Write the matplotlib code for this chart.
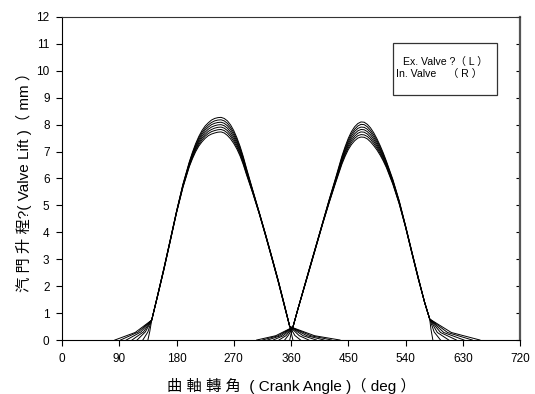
import matplotlib
matplotlib.use("Agg")
import matplotlib.pyplot as plt
import matplotlib.ticker as ticker
from matplotlib.lines import TICKLEFT
from matplotlib.patches import Rectangle

plt.rcParams['font.family'] = ['Liberation Sans', 'Noto Sans CJK TC', 'DejaVu Sans']

# exhaust valve (L): main lift part on a shared angle grid, one row per curve
ex_ang = [141, 150, 160, 170, 180, 190, 200, 205, 210, 215, 220, 225, 230, 235, 240, 245,
          250, 255, 260, 265, 270, 275, 280, 285, 290, 300, 310, 320, 330, 340, 350, 358]
ex_lift = [
    [0.74, 1.64, 2.65, 3.71, 4.78, 5.78, 6.61, 6.97, 7.29, 7.56, 7.78, 7.95, 8.07, 8.17, 8.23, 8.26,
     8.27, 8.23, 8.14, 7.99, 7.78, 7.51, 7.19, 6.81, 6.38, 5.56, 4.75, 3.93, 3.08, 2.21, 1.28, 0.50],
    [0.74, 1.63, 2.64, 3.70, 4.77, 5.76, 6.58, 6.93, 7.24, 7.50, 7.71, 7.87, 7.99, 8.08, 8.14, 8.17,
     8.18, 8.14, 8.05, 7.90, 7.70, 7.44, 7.13, 6.76, 6.34, 5.54, 4.74, 3.92, 3.07, 2.20, 1.27, 0.50],
    [0.74, 1.63, 2.63, 3.69, 4.76, 5.74, 6.55, 6.89, 7.19, 7.44, 7.64, 7.80, 7.91, 8.00, 8.05, 8.08,
     8.09, 8.05, 7.96, 7.82, 7.62, 7.37, 7.07, 6.71, 6.30, 5.52, 4.73, 3.91, 3.06, 2.19, 1.26, 0.50],
    [0.74, 1.62, 2.62, 3.68, 4.75, 5.72, 6.52, 6.85, 7.14, 7.38, 7.57, 7.72, 7.83, 7.91, 7.96, 7.99,
     8.00, 7.96, 7.87, 7.73, 7.54, 7.30, 7.01, 6.66, 6.26, 5.50, 4.72, 3.90, 3.05, 2.18, 1.25, 0.50],
    [0.74, 1.61, 2.61, 3.67, 4.74, 5.70, 6.49, 6.81, 7.09, 7.32, 7.50, 7.64, 7.75, 7.82, 7.87, 7.90,
     7.91, 7.87, 7.78, 7.64, 7.46, 7.23, 6.95, 6.61, 6.22, 5.48, 4.71, 3.89, 3.04, 2.17, 1.24, 0.50],
    [0.74, 1.61, 2.60, 3.66, 4.73, 5.68, 6.46, 6.77, 7.04, 7.26, 7.43, 7.57, 7.67, 7.74, 7.78, 7.81,
     7.82, 7.78, 7.69, 7.56, 7.38, 7.16, 6.89, 6.56, 6.18, 5.46, 4.70, 3.88, 3.03, 2.16, 1.23, 0.50],
    [0.74, 1.60, 2.59, 3.65, 4.72, 5.66, 6.43, 6.73, 6.99, 7.20, 7.36, 7.49, 7.59, 7.65, 7.69, 7.72,
     7.73, 7.69, 7.60, 7.47, 7.30, 7.09, 6.83, 6.51, 6.14, 5.44, 4.69, 3.87, 3.02, 2.15, 1.22, 0.50],
]
# opening / closing ramps (angle, lift) for each curve
ex_open_ang = [[83, 115], [92, 120], [101, 124], [110, 128], [118, 131], [127, 135], [135, 138]]
ex_open_lift = [[0, 0.28], [0, 0.30], [0, 0.30], [0, 0.30], [0, 0.30], [0, 0.30], [0, 0.32]]
ex_close_ang = [[397, 437], [391, 424], [385, 412], [379, 400], [373, 388], [366, 375], [360, 363]]
ex_close_lift = [[0.16, 0], [0.16, 0], [0.16, 0], [0.16, 0], [0.16, 0], [0.17, 0], [0.30, 0]]

# intake valve (R)
in_ang = [363, 370, 380, 390, 400, 410, 420, 430, 440, 445, 450, 455, 460, 465, 470,
          475, 480, 485, 490, 495, 500, 505, 510, 520, 530, 540, 550, 560, 570, 578]
in_lift = [
    [0.48, 1.08, 1.92, 2.75, 3.57, 4.39, 5.22, 6.01, 6.83, 7.18, 7.49, 7.74, 7.92, 8.04, 8.10,
     8.09, 8.01, 7.88, 7.70, 7.48, 7.23, 6.95, 6.64, 5.97, 5.18, 4.25, 3.28, 2.33, 1.40, 0.78],
    [0.48, 1.08, 1.91, 2.74, 3.56, 4.38, 5.20, 5.98, 6.78, 7.12, 7.42, 7.66, 7.83, 7.95, 8.01,
     8.00, 7.92, 7.79, 7.62, 7.41, 7.17, 6.90, 6.60, 5.94, 5.16, 4.24, 3.27, 2.32, 1.40, 0.78],
    [0.48, 1.08, 1.91, 2.73, 3.55, 4.37, 5.18, 5.95, 6.73, 7.06, 7.35, 7.58, 7.75, 7.86, 7.91,
     7.90, 7.83, 7.71, 7.54, 7.34, 7.11, 6.85, 6.56, 5.91, 5.14, 4.23, 3.26, 2.31, 1.40, 0.78],
    [0.48, 1.08, 1.90, 2.72, 3.54, 4.36, 5.16, 5.92, 6.68, 7.00, 7.28, 7.50, 7.66, 7.77, 7.82,
     7.81, 7.74, 7.62, 7.46, 7.27, 7.05, 6.80, 6.52, 5.88, 5.12, 4.22, 3.25, 2.30, 1.40, 0.78],
    [0.48, 1.08, 1.89, 2.71, 3.53, 4.35, 5.14, 5.89, 6.63, 6.94, 7.21, 7.42, 7.57, 7.68, 7.73,
     7.72, 7.65, 7.53, 7.38, 7.20, 6.99, 6.75, 6.48, 5.85, 5.10, 4.21, 3.24, 2.29, 1.40, 0.78],
    [0.48, 1.08, 1.89, 2.70, 3.52, 4.34, 5.12, 5.86, 6.58, 6.88, 7.14, 7.34, 7.49, 7.59, 7.63,
     7.62, 7.56, 7.45, 7.30, 7.13, 6.93, 6.70, 6.44, 5.82, 5.08, 4.20, 3.23, 2.28, 1.40, 0.78],
    [0.48, 1.08, 1.88, 2.69, 3.51, 4.33, 5.10, 5.83, 6.53, 6.82, 7.07, 7.26, 7.40, 7.50, 7.54,
     7.53, 7.47, 7.36, 7.22, 7.06, 6.87, 6.65, 6.40, 5.79, 5.06, 4.19, 3.22, 2.27, 1.40, 0.78],
]
in_open_ang = [[306, 336], [315, 340], [323, 344], [332, 348], [341, 352], [350, 356], [358, 360]]
in_open_lift = [[0, 0.16], [0, 0.16], [0, 0.16], [0, 0.16], [0, 0.16], [0, 0.18], [0, 0.22]]
in_close_ang = [[612, 657], [606, 645], [600, 632], [595, 620], [590, 608], [585, 595], [580, 583]]
in_close_lift = [[0.28, 0], [0.28, 0], [0.28, 0], [0.28, 0], [0.28, 0], [0.30, 0], [0.40, 0]]

x_ticks = [0, 90, 180, 270, 360, 450, 540, 630, 720]

fig = plt.figure(figsize=(5.35, 3.94), dpi=100)
ax = fig.add_axes([0.1159, 0.137, 0.8561, 0.820])

valves = [(ex_ang, ex_lift, ex_open_ang, ex_open_lift, ex_close_ang, ex_close_lift),
          (in_ang, in_lift, in_open_ang, in_open_lift, in_close_ang, in_close_lift)]
for angs, rows, oa, ol, ca, cl in valves:
    for i in range(len(rows)):
        xs = oa[i] + angs + ca[i]
        ys = ol[i] + rows[i] + cl[i]
        ax.plot(xs, ys, color="black", lw=0.7)

ax.set_xlim(0, 720)
ax.set_ylim(0, 12)
ax.set_xticks(x_ticks)
ax.yaxis.set_major_locator(ticker.MultipleLocator(1))
ax.tick_params(axis="both", direction="out", length=4, width=0.8, labelsize=8.5, pad=5)
ax.tick_params(axis="y", right=True, labelright=False)
# ticks on the right spine point inward
for t in ax.yaxis.get_major_ticks():
    t.tick2line.set_marker(TICKLEFT)
    t.tick2line.set_markersize(3)
ax.spines["right"].set_color("#555555")
ax.spines["right"].set_linewidth(1.6)
ax.spines["top"].set_color("#333333")

ax.set_xlabel("曲 軸 轉 角  ( Crank Angle )（ deg ）", fontsize=11, labelpad=10)
ax.set_ylabel("汽 門 升 程?( Valve Lift )（ mm ）", fontsize=11, labelpad=3)

box = Rectangle((0.7227, 0.7585), 0.227, 0.161, transform=ax.transAxes,
                fill=False, edgecolor="#333333", lw=0.9)
ax.add_patch(box)
ax.text(0.7445, 0.862, "Ex. Valve ?（ L ）", transform=ax.transAxes, fontsize=7.6, va="center")
ax.text(0.729, 0.824, "In. Valve    （ R ）", transform=ax.transAxes, fontsize=7.6, va="center")

fig.savefig("out.png", dpi=100)
